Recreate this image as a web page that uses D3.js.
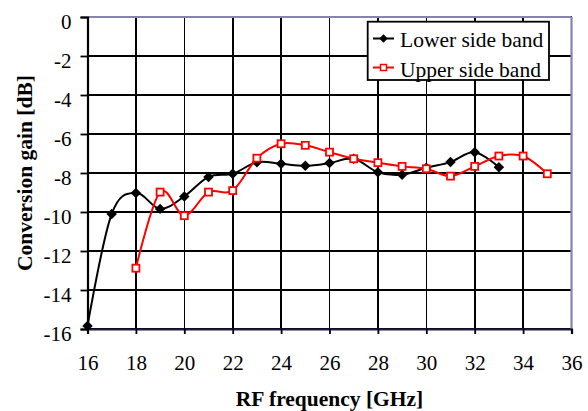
<!DOCTYPE html>
<html>
<head>
<meta charset="utf-8">
<script src="https://cdn.jsdelivr.net/npm/d3@7"></script>
<style>
body { margin: 0; background: #fff; }
text { font-family: "Liberation Serif", "Times New Roman", serif; fill: #000; }
</style>
</head>
<body>
<script>
var width = 588, height = 411;

// data
var lowerFreq = [16, 17, 18, 19, 20, 21, 22, 23, 24, 25, 26, 27, 28, 29, 30, 31, 32, 33];
var lowerGain = [-15.84, -10.1, -9.02, -9.84, -9.2, -8.2, -8.04, -7.45, -7.53, -7.63, -7.49, -7.27, -7.96, -8.09, -7.73, -7.44, -6.93, -7.7];
var upperFreq = [18, 19, 20, 21, 22, 23, 24, 25, 26, 27, 28, 29, 30, 31, 32, 33, 34, 35];
var upperGain = [-12.88, -8.98, -10.19, -8.98, -8.9, -7.24, -6.5, -6.58, -6.93, -7.27, -7.47, -7.66, -7.78, -8.16, -7.66, -7.13, -7.13, -8.04];
var xTicks = [16, 18, 20, 22, 24, 26, 28, 30, 32, 34, 36];
var yTicks = [0, -2, -4, -6, -8, -10, -12, -14, -16];
var seriesNames = ["Lower side band", "Upper side band"];

var margin = {left: 87.5, right: 16.5, top: 17, bottom: 82};

var svg = d3.select("body")
	.append("svg")
	.attr("width", width)
	.attr("height", height);

var x = d3.scaleLinear().domain([16, 36]).range([margin.left, width - margin.right]);
var y = d3.scaleLinear().domain([-16, 0]).range([height - margin.bottom, margin.top]);

// grid
var grid = svg.append("g").attr("shape-rendering", "crispEdges");
xTicks.forEach(function(t){
	grid.append("line")
		.attr("x1", x(t)).attr("x2", x(t))
		.attr("y1", y(0)).attr("y2", y(-16))
		.attr("stroke", "#000").attr("stroke-width", 1.6);
});
yTicks.forEach(function(t){
	grid.append("line")
		.attr("x1", x(16)).attr("x2", x(36))
		.attr("y1", y(t)).attr("y2", y(t))
		.attr("stroke", "#000").attr("stroke-width", 1.6);
});

// plot frame: top/right bluish grey
svg.append("line").attr("x1", x(16)).attr("x2", x(36)).attr("y1", y(0)).attr("y2", y(0))
	.attr("stroke", "#8484b0").attr("stroke-width", 2.2);
svg.append("line").attr("x1", x(36)).attr("x2", x(36)).attr("y1", y(0)).attr("y2", y(-16))
	.attr("stroke", "#8484b0").attr("stroke-width", 2.2);

// axes
var xAxis = svg.append("g")
	.attr("transform", "translate(0," + y(-16) + ")")
	.call(d3.axisBottom(x).tickValues(xTicks).tickSize(5).tickPadding(21).tickFormat(d3.format("d")));
var yAxis = svg.append("g")
	.attr("transform", "translate(" + x(16) + ",0)")
	.call(d3.axisLeft(y).tickValues(yTicks).tickSize(7).tickPadding(9).tickFormat(function(d){ return d === 0 ? "0" : "-" + Math.abs(d); }));
[xAxis, yAxis].forEach(function(a){
	a.attr("font-family", null);
	a.select(".domain").attr("stroke", "#000").attr("stroke-width", 2.2);
	a.selectAll(".tick line").attr("stroke", "#000").attr("stroke-width", 1.8);
	a.selectAll(".tick text").style("font-size", "21px").attr("fill", "#000");
});
yAxis.selectAll(".tick text").attr("dy", "0.55em");
xAxis.select(".domain").attr("stroke", "#1c1c48");

// axis titles
svg.append("text")
	.attr("x", (x(16) + x(36)) / 2).attr("y", 406)
	.attr("text-anchor", "middle")
	.style("font-size", "21.5px").style("font-weight", "bold")
	.text("RF frequency [GHz]");
svg.append("text")
	.attr("transform", "translate(32," + ((y(0) + y(-16)) / 2) + ") rotate(-90)")
	.attr("text-anchor", "middle")
	.style("font-size", "21.5px").style("font-weight", "bold")
	.text("Conversion gain [dB]");

// series
var line = d3.line()
	.x(function(d){ return x(d[0]); })
	.y(function(d){ return y(d[1]); })
	.curve(d3.curveCardinal.tension(0));

var lower = d3.zip(lowerFreq, lowerGain);
var upper = d3.zip(upperFreq, upperGain);

svg.append("path").datum(lower)
	.attr("d", line).attr("fill", "none")
	.attr("stroke", "#000").attr("stroke-width", 2);
svg.append("g").selectAll("path")
	.data(lower).enter().append("path")
	.attr("d", d3.symbol(d3.symbolDiamond2, 70))
	.attr("transform", function(d){ return "translate(" + x(d[0]) + "," + y(d[1]) + ")"; })
	.attr("fill", "#000");

svg.append("path").datum(upper)
	.attr("d", line).attr("fill", "none")
	.attr("stroke", "#ff0000").attr("stroke-width", 2);
svg.append("g").selectAll("rect")
	.data(upper).enter().append("rect")
	.attr("x", function(d){ return x(d[0]) - 3.5; })
	.attr("y", function(d){ return y(d[1]) - 3.5; })
	.attr("width", 7).attr("height", 7)
	.attr("fill", "#fff").attr("stroke", "#ff0000").attr("stroke-width", 1.8);

// legend
var legend = svg.append("g");
legend.append("rect")
	.attr("x", 367.7).attr("y", 21.7).attr("width", 181.3).attr("height", 58.3)
	.attr("fill", "#fff").attr("stroke", "#000").attr("stroke-width", 1.8);
seriesNames.forEach(function(name, i){
	var ly = 38.5 + i * 29;
	var col = i === 0 ? "#000" : "#ff0000";
	legend.append("line")
		.attr("x1", 373).attr("x2", 394).attr("y1", ly).attr("y2", ly)
		.attr("stroke", col).attr("stroke-width", 2);
	if (i === 0) {
		legend.append("path")
			.attr("d", d3.symbol(d3.symbolDiamond2, 45))
			.attr("transform", "translate(383.5," + ly + ")")
			.attr("fill", "#000");
	} else {
		legend.append("rect")
			.attr("x", 380.5).attr("y", ly - 3).attr("width", 6).attr("height", 6)
			.attr("fill", "#fff").attr("stroke", "#ff0000").attr("stroke-width", 1.5);
	}
	legend.append("text")
		.attr("x", 400).attr("y", 47.3 + i * 29.4)
		.style("font-size", "21.5px")
		.text(name);
});
</script>
</body>
</html>
